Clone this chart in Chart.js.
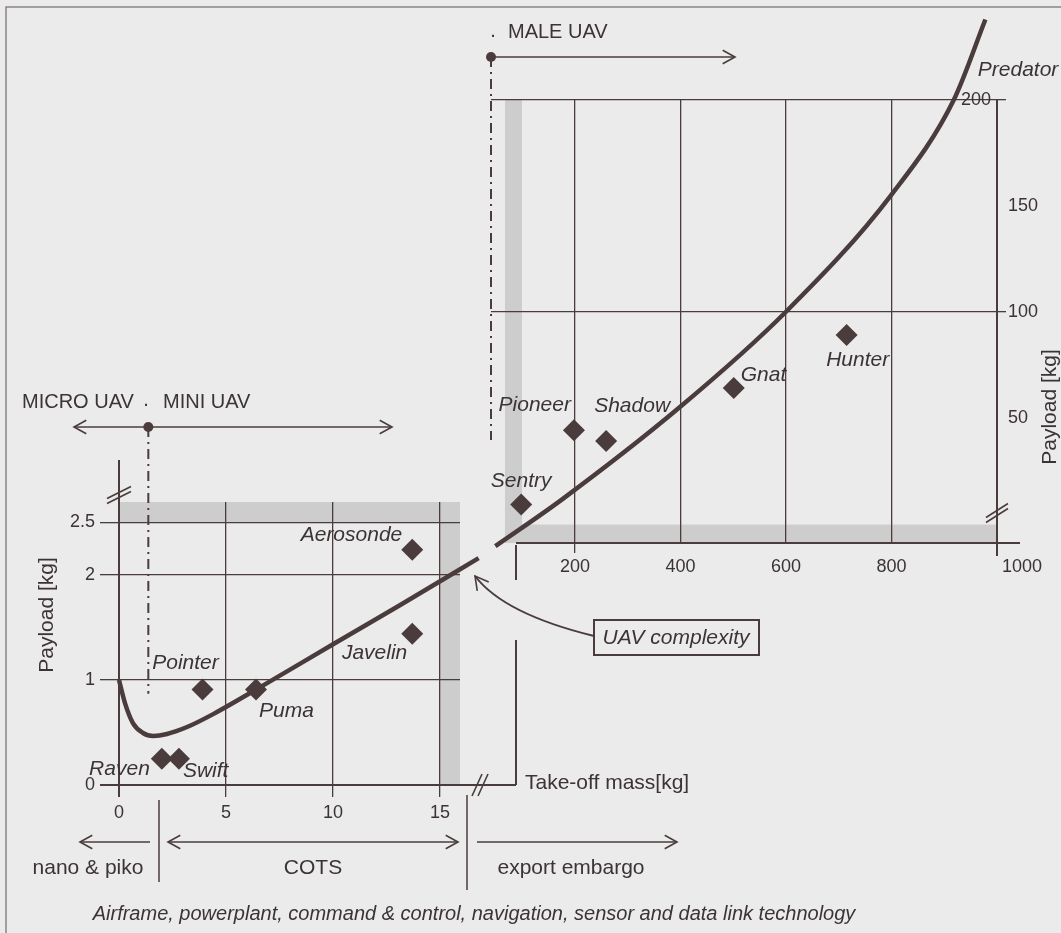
<!DOCTYPE html>
<html>
<head>
<meta charset="utf-8">
<script src="https://cdn.jsdelivr.net/npm/chart.js@4.4.1/dist/chart.umd.min.js"></script>
<style>
  html, body { margin: 0; padding: 0; background: #ebebeb; }
  #wrap { position: relative; width: 1061px; height: 933px; overflow: hidden; }
  canvas { position: absolute; left: 0; top: 0; }
</style>
</head>
<body>
<div id="wrap">
  <canvas id="small" width="1061" height="933"></canvas>
  <canvas id="big" width="1061" height="933"></canvas>
</div>
<script>
// small UAVs (take-off mass 0..16 kg)
const smallNames = ['Raven', 'Swift', 'Pointer', 'Puma', 'Javelin', 'Aerosonde'];
const smallMass = [2.0, 2.8, 3.9, 6.4, 13.7, 13.7];
const smallPayload = [0.25, 0.25, 0.91, 0.91, 1.44, 2.24];
const smallCurveMass = [0, 0.28, 0.65, 1.12, 1.6, 2.24, 3.18, 4.4, 6.5, 10, 13.1, 16.8];
const smallCurvePayload = [1.0, 0.78, 0.59, 0.495, 0.467, 0.486, 0.552, 0.675, 0.92, 1.34, 1.71, 2.16];
const smallXTicks = [0, 5, 10, 15];
const smallYTicks = [0, 1, 2, 2.5];
const miniBoundary = 1.37;

// larger UAVs (take-off mass up to 1000 kg)
const bigNames = ['Sentry', 'Pioneer', 'Shadow', 'Gnat', 'Hunter', 'Predator'];
const bigMass = [98, 198, 259, 501, 715, 1038];
const bigPayload = [9, 44, 39, 64, 89, 200];
const bigCurveMass = [49, 175, 399, 600, 799, 918, 978];
const bigCurvePayload = [-10.7, 11.3, 55, 100, 155, 200, 238];
const bigXTicks = [200, 400, 600, 800, 1000];
const bigYTicks = [50, 100, 150, 200];
const maleBoundary = 40.8;

const INK = '#4a3c3d';
const TXT = '#3b3334';
const GREY = '#cdcdcd';
const NONE = 'rgba(0,0,0,0)';
const FONT = '"Liberation Sans", Arial, sans-serif';

// where each point name sits relative to its diamond
const labelPos = {
  Raven: [-12, 10, 'right'], Swift: [4, 12, 'left'], Pointer: [-17, -26, 'center'],
  Puma: [3, 22, 'left'], Javelin: [-5, 19, 'right'], Aerosonde: [-10, -15, 'right'],
  Sentry: [0, -23, 'center'], Pioneer: [-3, -25, 'right'], Shadow: [26, -35, 'center'],
  Gnat: [7, -13, 'left'], Hunter: [11, 25, 'center'], Predator: [1, -30, 'center']
};

function seg(ctx, x1, y1, x2, y2, w) {
  ctx.save();
  ctx.strokeStyle = INK;
  ctx.lineWidth = w || 1.5;
  ctx.beginPath();
  ctx.moveTo(x1, y1);
  ctx.lineTo(x2, y2);
  ctx.stroke();
  ctx.restore();
}

function chevron(ctx, x, y, ang, len) {
  const a1 = ang + Math.PI - 0.5, a2 = ang + Math.PI + 0.5;
  ctx.save();
  ctx.strokeStyle = INK;
  ctx.lineWidth = 1.6;
  ctx.beginPath();
  ctx.moveTo(x + len * Math.cos(a1), y + len * Math.sin(a1));
  ctx.lineTo(x, y);
  ctx.lineTo(x + len * Math.cos(a2), y + len * Math.sin(a2));
  ctx.stroke();
  ctx.restore();
}

function text(ctx, str, x, y, size, align, italic) {
  ctx.save();
  ctx.fillStyle = TXT;
  ctx.font = (italic ? 'italic ' : '') + size + 'px ' + FONT;
  ctx.textAlign = align || 'left';
  ctx.textBaseline = 'middle';
  ctx.fillText(str, x, y);
  ctx.restore();
}

function vtext(ctx, str, x, y, size) {
  ctx.save();
  ctx.translate(x, y);
  ctx.rotate(-Math.PI / 2);
  text(ctx, str, 0, 0, size, 'center');
  ctx.restore();
}

function dashDot(ctx, x, y1, y2) {
  ctx.save();
  ctx.strokeStyle = INK;
  ctx.lineWidth = 2;
  ctx.setLineDash([10, 5, 2, 5]);
  ctx.beginPath();
  ctx.moveTo(x, y1);
  ctx.lineTo(x, y2);
  ctx.stroke();
  ctx.restore();
}

function dot(ctx, x, y) {
  ctx.save();
  ctx.fillStyle = INK;
  ctx.beginPath();
  ctx.arc(x, y, 5, 0, Math.PI * 2);
  ctx.fill();
  ctx.restore();
}

function breakMark(ctx, x, y, dx, dy, ox, oy) {
  seg(ctx, x - dx - ox, y - dy - oy, x + dx - ox, y + dy - oy, 1.6);
  seg(ctx, x - dx + ox, y - dy + oy, x + dx + ox, y + dy + oy, 1.6);
}

function pointLabels(chart, names) {
  const ctx = chart.ctx;
  chart.getDatasetMeta(0).data.forEach((pt, i) => {
    const o = labelPos[names[i]];
    text(ctx, names[i], pt.x + o[0], pt.y + o[1], 21, o[2], true);
  });
}

const smallDeco = {
  id: 'smallDeco',
  beforeDraw(chart) {
    const {ctx, scales: {x, y}} = chart;
    const left = x.getPixelForValue(0), right = x.getPixelForValue(x.max);
    const top = y.getPixelForValue(y.max), bottom = y.getPixelForValue(0);
    ctx.save();
    ctx.fillStyle = GREY;
    ctx.fillRect(left, top, right - left, y.getPixelForValue(2.5) - top);
    const x1 = x.getPixelForValue(15);
    ctx.fillRect(x1, top, right - x1, bottom - top);
    ctx.restore();
  },
  afterDatasetsDraw(chart) {
    pointLabels(chart, smallNames);
  },
  afterDraw(chart) {
    const {ctx, scales: {x, y}} = chart;
    const x0 = x.getPixelForValue(0), y0 = y.getPixelForValue(0);
    const right = x.getPixelForValue(x.max), top = y.getPixelForValue(y.max);
    // axis extensions and breaks
    seg(ctx, x0, 460, x0, top, 2);
    breakMark(ctx, x0, 495, 12, -6, 0, 2.5);
    seg(ctx, right, y0, 516, y0, 2);
    seg(ctx, 516, y0, 516, 640, 2);
    seg(ctx, 516, 545, 516, 580, 2);
    breakMark(ctx, 480, y0, 5, -11, 3, 0);
    // micro / mini boundary
    const xm = x.getPixelForValue(miniBoundary);
    dashDot(ctx, xm, 427, y.getPixelForValue(0.87));
    seg(ctx, 74, 427, 392, 427, 1.6);
    chevron(ctx, 74, 427, Math.PI, 14);
    chevron(ctx, 392, 427, 0, 14);
    dot(ctx, xm, 427);
    text(ctx, 'MICRO UAV', 22, 402, 20);
    text(ctx, 'MINI UAV', 163, 402, 20);
    text(ctx, '.', 146, 400, 20, 'center');
    vtext(ctx, 'Payload [kg]', 47, 615, 21);
    text(ctx, 'Take-off mass[kg]', 525, 783, 21);
    // bottom bands
    seg(ctx, 159, 800, 159, 882, 1.5);
    seg(ctx, 467, 795, 467, 890, 1.5);
    seg(ctx, 80, 842, 150, 842, 1.6);
    chevron(ctx, 80, 842, Math.PI, 14);
    seg(ctx, 168, 842, 458, 842, 1.6);
    chevron(ctx, 168, 842, Math.PI, 14);
    chevron(ctx, 458, 842, 0, 14);
    seg(ctx, 477, 842, 677, 842, 1.6);
    chevron(ctx, 677, 842, 0, 14);
    text(ctx, 'nano & piko', 88, 868, 21, 'center');
    text(ctx, 'COTS', 313, 868, 21, 'center');
    text(ctx, 'export embargo', 571, 868, 21, 'center');
    text(ctx, 'Airframe, powerplant, command & control, navigation, sensor and data link technology', 474, 914, 20, 'center', true);
    // complexity box and arrow
    ctx.save();
    ctx.strokeStyle = INK;
    ctx.lineWidth = 2;
    ctx.strokeRect(594, 620, 165, 35);
    ctx.beginPath();
    ctx.moveTo(594, 636);
    ctx.quadraticCurveTo(504, 614, 475, 576);
    ctx.stroke();
    ctx.restore();
    chevron(ctx, 475, 576, Math.atan2(-38, -29), 15);
    text(ctx, 'UAV complexity', 676, 638, 21, 'center', true);
    // figure frame
    ctx.save();
    ctx.strokeStyle = '#8c8484';
    ctx.lineWidth = 1.5;
    ctx.beginPath();
    ctx.moveTo(6, 933);
    ctx.lineTo(6, 7);
    ctx.lineTo(1061, 7);
    ctx.stroke();
    ctx.restore();
  }
};

const bigDeco = {
  id: 'bigDeco',
  beforeDraw(chart) {
    const {ctx, scales: {x, y}} = chart;
    const xl = x.getPixelForValue(67.3), xr = x.getPixelForValue(99.5);
    const top = y.getPixelForValue(y.max), bottom = y.getPixelForValue(y.min);
    ctx.save();
    ctx.fillStyle = GREY;
    ctx.fillRect(xl, top, xr - xl, bottom - top);
    const yb = y.getPixelForValue(-0.5);
    ctx.fillRect(xl, yb, x.getPixelForValue(1000) - xl, bottom - yb);
    ctx.restore();
  },
  afterDatasetsDraw(chart) {
    pointLabels(chart, bigNames);
  },
  afterDraw(chart) {
    const {ctx, scales: {x, y}} = chart;
    const bottom = y.getPixelForValue(y.min);
    const xr = x.getPixelForValue(1000);
    seg(ctx, 516, bottom, 1020, bottom, 2);
    seg(ctx, xr, bottom, xr, bottom + 13, 2);
    breakMark(ctx, xr, 513, 11, -7, 0, 2.5);
    // MALE boundary
    const xm = x.getPixelForValue(maleBoundary);
    dashDot(ctx, xm, 57, 440);
    seg(ctx, xm, 57, 735, 57, 1.6);
    chevron(ctx, 735, 57, 0, 14);
    dot(ctx, xm, 57);
    text(ctx, '.', xm + 2, 31, 20, 'center');
    text(ctx, 'MALE UAV', 508, 32, 20);
    // tick labels placed off the usual side
    text(ctx, '200', xr - 6, y.getPixelForValue(200), 18, 'right');
    text(ctx, '1000', xr + 5, 567, 18, 'left');
    vtext(ctx, 'Payload [kg]', 1050, 407, 21);
  }
};

function scaleFont() {
  return {family: FONT, size: 18};
}

new Chart(document.getElementById('small'), {
  type: 'scatter',
  data: {
    datasets: [{
      data: smallMass.map((m, i) => ({x: m, y: smallPayload[i]})),
      pointStyle: 'rectRot',
      pointRadius: 11,
      backgroundColor: INK,
      borderWidth: 0,
      clip: false
    }, {
      data: smallCurveMass.map((m, i) => ({x: m, y: smallCurvePayload[i]})),
      showLine: true,
      pointRadius: 0,
      borderColor: INK,
      borderWidth: 4.5,
      cubicInterpolationMode: 'monotone',
      clip: false
    }]
  },
  options: {
    responsive: false,
    animation: false,
    events: [],
    layout: {padding: {left: 0, right: 601, top: 502, bottom: 0}},
    plugins: {legend: {display: false}, tooltip: {enabled: false}},
    scales: {
      x: {
        type: 'linear', min: 0, max: 15.93,
        afterBuildTicks: s => { s.ticks = smallXTicks.map(v => ({value: v})); },
        afterFit: s => { s.height = 148; },
        grid: {color: INK, lineWidth: c => (c.tick && c.tick.value === 0 ? 2 : 1.3), tickLength: 12},
        border: {display: true, color: INK, width: 2},
        ticks: {color: TXT, font: scaleFont(), padding: 5, maxRotation: 0, autoSkip: false,
          callback: v => String(v)}
      },
      y: {
        type: 'linear', min: 0, max: 2.695,
        afterBuildTicks: s => { s.ticks = smallYTicks.map(v => ({value: v})); },
        afterFit: s => { s.width = 119; },
        grid: {color: INK, lineWidth: c => (c.tick && c.tick.value === 0 ? 2 : 1.3), tickLength: 19},
        border: {display: true, color: INK, width: 2},
        ticks: {color: TXT, font: scaleFont(), padding: 5, autoSkip: false,
          callback: v => String(v)}
      }
    }
  },
  plugins: [smallDeco]
});

new Chart(document.getElementById('big'), {
  type: 'scatter',
  data: {
    datasets: [{
      data: bigMass.map((m, i) => ({x: m, y: bigPayload[i]})),
      pointStyle: 'rectRot',
      pointRadius: 11,
      backgroundColor: INK,
      borderWidth: 0,
      clip: false
    }, {
      data: bigCurveMass.map((m, i) => ({x: m, y: bigCurvePayload[i]})),
      showLine: true,
      pointRadius: 0,
      borderColor: INK,
      borderWidth: 4.5,
      cubicInterpolationMode: 'monotone',
      clip: false
    }]
  },
  options: {
    responsive: false,
    animation: false,
    events: [],
    layout: {padding: {left: 491, right: 0, top: 100, bottom: 0}},
    plugins: {legend: {display: false}, tooltip: {enabled: false}},
    scales: {
      x: {
        type: 'linear', min: maleBoundary, max: 1000,
        afterBuildTicks: s => { s.ticks = bigXTicks.map(v => ({value: v})); },
        afterFit: s => { s.height = 390; },
        grid: {color: c => (c.tick && c.tick.value < 1000 ? INK : NONE), lineWidth: 1.3, tickLength: 10,
          tickColor: c => (c.tick && c.tick.value === 200 ? INK : NONE)},
        border: {display: false},
        ticks: {color: TXT, font: scaleFont(), padding: 3, maxRotation: 0, autoSkip: false,
          callback: v => (v === 1000 ? '' : String(v))}
      },
      y: {
        type: 'linear', position: 'right', min: -9.2, max: 200,
        afterBuildTicks: s => { s.ticks = bigYTicks.map(v => ({value: v})); },
        afterFit: s => { s.width = 64; },
        grid: {color: c => (c.tick && c.tick.value % 100 === 0 ? INK : NONE), lineWidth: 1.3, tickLength: 9},
        border: {display: true, color: INK, width: 2},
        ticks: {color: TXT, font: scaleFont(), padding: 2, autoSkip: false,
          callback: v => (v === 200 ? '' : String(v))}
      }
    }
  },
  plugins: [bigDeco]
});
</script>
</body>
</html>
